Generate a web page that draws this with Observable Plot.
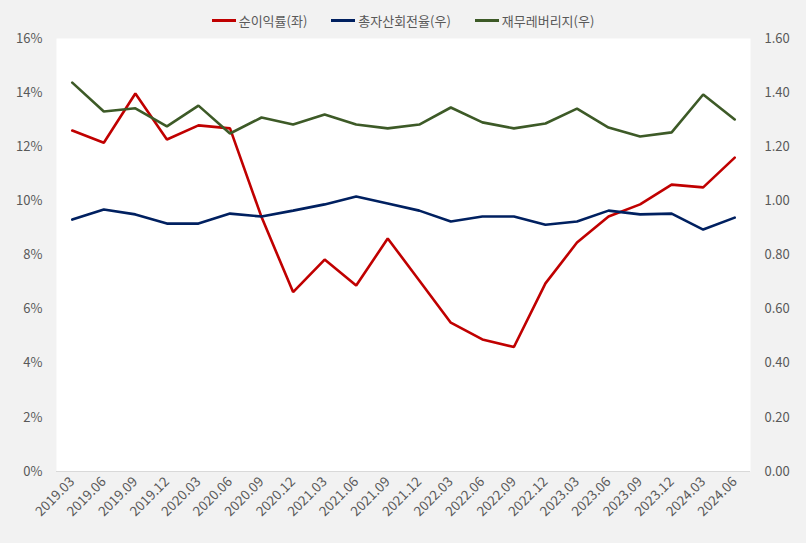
<!DOCTYPE html>
<html><head><meta charset="utf-8">
<script src="https://cdn.jsdelivr.net/npm/d3@7"></script>
<script src="https://cdn.jsdelivr.net/npm/@observablehq/plot@0.6"></script>
<style>
html,body{margin:0;padding:0;background:#f2f2f2;}
body{width:806px;height:543px;overflow:hidden;font-family:"Noto Sans CJK KR","Noto Sans",sans-serif;}
#legend{height:28px;display:flex;justify-content:center;align-items:center;gap:24px;font-size:13px;color:#595959;padding-top:12px;box-sizing:border-box;}
#legend .it{display:flex;align-items:center;gap:3px;}
#legend .sw{width:24px;height:3px;}
#chart svg{display:block;overflow:visible;}
</style></head><body>
<div id="legend"></div>
<div id="chart"></div>
<script>
const periods = ["2019.03","2019.06","2019.09","2019.12","2020.03","2020.06","2020.09","2020.12","2021.03","2021.06","2021.09","2021.12","2022.03","2022.06","2022.09","2022.12","2023.03","2023.06","2023.09","2023.12","2024.03","2024.06"];
// 순이익률(좌), %
const netMargin = [12.6,12.15,13.97,12.27,12.79,12.68,9.4,6.63,7.83,6.87,8.61,7.06,5.5,4.88,4.6,6.95,8.46,9.42,9.87,10.6,10.5,11.6];
// 총자산회전율(우)
const assetTurnover = [0.931,0.968,0.950,0.916,0.916,0.953,0.942,0.964,0.987,1.016,0.990,0.964,0.924,0.942,0.942,0.912,0.924,0.964,0.950,0.953,0.894,0.938];
// 재무레버리지(우)
const leverage = [1.437,1.330,1.342,1.275,1.352,1.249,1.308,1.282,1.319,1.282,1.268,1.282,1.345,1.290,1.268,1.286,1.341,1.271,1.238,1.253,1.393,1.301];
const leftTicks = [0,2,4,6,8,10,12,14,16];

const series = [
  {name:"순이익률(좌)", color:"#c00000", values:netMargin, k:1},
  {name:"총자산회전율(우)", color:"#002060", values:assetTurnover, k:10},
  {name:"재무레버리지(우)", color:"#3d5a27", values:leverage, k:10}
];
const rows = series.flatMap(s => s.values.map((v,i)=>({series:s.name, period:periods[i], y:v*s.k})));

const lg = document.getElementById("legend");
series.forEach(s=>{
  const d=document.createElement("div");d.className="it";
  d.innerHTML=`<span class="sw" style="background:${s.color}"></span><span>${s.name}</span>`;
  lg.appendChild(d);
});

const chart = Plot.plot({
  width:806, height:515,
  marginTop:10, marginBottom:72, marginLeft:56, marginRight:56,
  style:{background:"transparent", fontFamily:"'Noto Sans CJK KR','Noto Sans',sans-serif", fontSize:"13px", color:"#595959"},
  x:{type:"point", domain:periods, padding:0.5, round:false},
  y:{domain:[0,16]},
  color:{domain:series.map(s=>s.name), range:series.map(s=>s.color)},
  marks:[
    Plot.frame({fill:"white", stroke:null}),
    Plot.ruleY([0],{stroke:"#d9d9d9"}),
    Plot.axisY({anchor:"left", ticks:leftTicks, tickSize:0, tickPadding:14, tickFormat:d=>d+"%", label:null, fill:"#595959"}),
    Plot.axisY({anchor:"right", ticks:leftTicks, tickSize:0, tickPadding:14, tickFormat:d=>(d/10).toFixed(2), label:null, fill:"#595959"}),
    Plot.axisX({tickRotate:-45, tickSize:0, tickPadding:8, label:null, fill:"#595959", fontSize:13.5}),
    Plot.line(rows,{x:"period", y:"y", z:"series", stroke:"series", strokeWidth:2.6, strokeLinejoin:"miter"})
  ]
});
document.getElementById("chart").appendChild(chart);
</script>
</body></html>
